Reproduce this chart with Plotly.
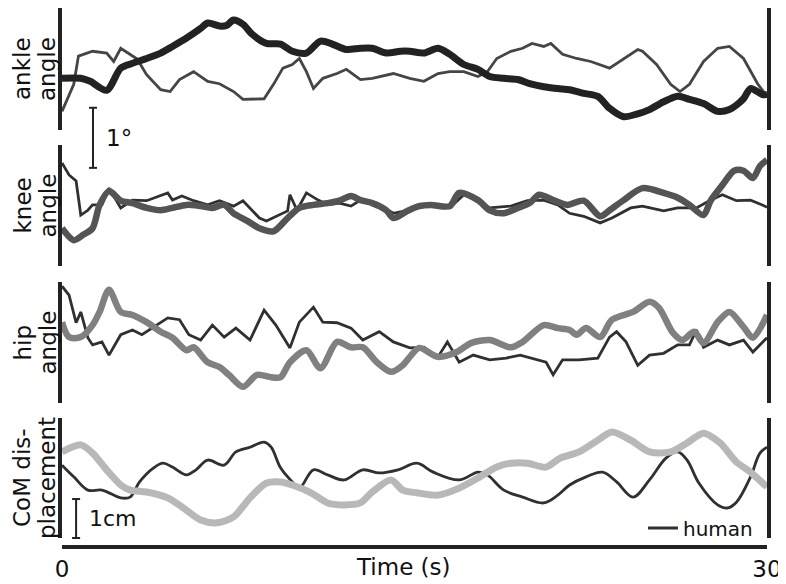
import plotly.graph_objects as go

# ---- data (time in s, angles in degrees, CoM in cm) ----
ankle_model_t = [0, 0.8, 1.2, 1.9, 2.5, 3.0, 3.6, 4.2, 4.7, 5.3, 5.9, 6.2, 6.7, 7.0, 7.3, 7.7, 8.1, 8.7, 9.3, 9.8,
                 10.4, 11.0, 11.5, 12.1, 12.7, 13.2, 13.8, 14.4, 14.8, 15.4, 16.0, 16.5, 17.1, 17.7, 18.2, 18.8,
                 19.4, 19.9, 20.5, 21.1, 21.6, 22.2, 22.8, 23.3, 23.9, 24.5, 25.0, 25.6, 26.2, 26.7, 27.3, 27.9,
                 28.4, 29.0, 29.3, 29.8, 30.0]
ankle_model = [-0.14, -0.14, -0.19, -0.34, 0.03, 0.11, 0.19, 0.28, 0.39, 0.53, 0.69, 0.78, 0.73, 0.74, 0.83, 0.76,
               0.59, 0.44, 0.43, 0.31, 0.28, 0.48, 0.43, 0.34, 0.36, 0.36, 0.28, 0.31, 0.31, 0.28, 0.36, 0.26,
               0.09, 0.01, -0.11, -0.14, -0.16, -0.23, -0.28, -0.31, -0.33, -0.39, -0.44, -0.64, -0.78, -0.73,
               -0.66, -0.53, -0.44, -0.49, -0.56, -0.69, -0.66, -0.48, -0.31, -0.41, -0.41]
ankle_human_t = [0.0, 0.5, 0.7, 1.3, 1.9, 2.2, 2.5, 2.8, 3.2, 3.6, 4.2, 4.6, 5.0, 5.6, 6.2, 6.7, 7.3, 7.7, 8.1, 8.6,
                 9.0, 9.4, 9.8, 10.1, 10.4, 10.7, 11.1, 11.7, 12.1, 12.7, 13.2, 14.1, 14.8, 15.4, 16.0, 16.5,
                 17.1, 17.7, 18.1, 18.5, 19.1, 19.6, 20.0, 20.5, 20.8, 21.3, 21.9, 22.5, 23.3, 23.9, 24.5, 24.7,
                 25.3, 25.9, 26.3, 26.7, 27.3, 27.9, 28.4, 29.0, 29.6, 30.0]
ankle_human = [-0.69, -0.24, 0.23, 0.31, 0.28, 0.14, 0.36, 0.28, 0.18, -0.08, -0.33, -0.36, -0.16, -0.03, -0.19,
               -0.23, -0.36, -0.49, -0.49, -0.48, -0.24, 0.03, 0.09, 0.19, -0.03, -0.31, -0.14, -0.06, 0.01,
               -0.16, -0.14, -0.06, -0.14, -0.19, -0.06, -0.03, -0.03, -0.11, -0.03, 0.19, 0.31, 0.36, 0.44,
               0.39, 0.44, 0.26, 0.19, 0.14, 0.03, 0.19, 0.34, 0.31, 0.09, -0.24, -0.36, -0.24, 0.14, 0.36,
               0.39, 0.19, -0.23, -0.44]

knee_model_t = [0.0, 0.5, 0.9, 1.3, 1.6, 2.0, 2.5, 3.0, 3.6, 4.2, 4.7, 5.3, 5.9, 6.4, 6.9, 7.3, 7.9, 8.4, 9.0, 9.6,
                10.1, 10.7, 11.3, 11.8, 12.3, 12.7, 13.2, 13.8, 14.1, 14.7, 15.2, 15.7, 16.5, 16.9, 17.7, 18.2,
                18.8, 19.4, 19.9, 20.3, 20.9, 21.5, 22.2, 22.9, 23.3, 23.9, 24.7, 25.6, 26.2, 26.7, 27.3, 27.6,
                28.1, 28.6, 29.0, 29.4, 29.7, 30.0]
knee_model = [-0.38, -0.58, -0.49, -0.38, 0.01, 0.24, 0.08, 0.04, -0.04, -0.08, -0.04, 0.01, -0.01, -0.04, 0.01,
              -0.13, -0.26, -0.38, -0.43, -0.21, -0.04, 0.01, 0.04, 0.08, 0.16, 0.09, 0.04, -0.08, -0.21, -0.09,
              -0.01, 0.01, -0.01, 0.21, 0.09, -0.08, -0.13, -0.04, 0.04, 0.18, 0.09, 0.01, 0.08, -0.18, -0.08,
              0.09, 0.29, 0.21, 0.13, 0.01, -0.16, 0.08, 0.34, 0.58, 0.58, 0.46, 0.66, 0.76]
knee_human_t = [0.0, 0.3, 0.6, 0.8, 1.1, 1.3, 1.7, 2.0, 2.5, 3.0, 3.6, 4.2, 4.5, 4.7, 5.1, 5.6, 6.2, 6.7, 7.3, 7.7,
                8.1, 8.4, 8.7, 9.1, 9.6, 9.7, 10.0, 10.4, 10.9, 11.3, 11.8, 12.3, 12.7, 13.5, 14.1, 14.7, 15.2,
                15.7, 16.5, 17.1, 17.7, 18.2, 19.1, 19.8, 20.5, 21.1, 21.6, 22.2, 22.9, 23.4, 24.2, 24.7, 25.6,
                26.2, 27.0, 27.6, 28.1, 28.7, 29.3, 29.8, 30.0]
knee_human = [0.71, 0.51, 0.41, -0.16, -0.08, 0.01, 0.01, 0.29, -0.04, 0.09, 0.08, 0.16, 0.21, 0.09, 0.16, 0.08,
              0.01, 0.08, -0.01, 0.08, -0.09, -0.21, -0.26, -0.18, -0.09, 0.18, -0.08, 0.21, 0.09, 0.01, 0.04,
              -0.01, 0.09, 0.01, -0.13, -0.08, -0.01, -0.01, -0.04, 0.18, 0.08, -0.04, -0.01, 0.08, 0.09, 0.01,
              -0.13, -0.18, -0.29, -0.21, -0.04, -0.01, -0.09, -0.04, -0.04, 0.09, 0.18, 0.08, 0.09, 0.01, -0.03]

hip_model_t = [0.0, 0.3, 0.8, 1.3, 1.6, 2.0, 2.5, 3.0, 3.6, 4.2, 4.7, 5.3, 5.6, 6.2, 6.7, 7.1, 7.7, 8.3, 8.9, 9.3,
               9.7, 10.4, 11.0, 11.7, 12.3, 12.8, 13.4, 14.0, 14.5, 14.8, 15.2, 16.0, 16.8, 17.4, 18.2, 19.1,
               19.6, 20.5, 21.1, 21.6, 21.9, 22.3, 22.9, 23.4, 24.3, 25.0, 25.4, 26.0, 26.4, 26.9, 27.3, 27.9,
               28.4, 29.0, 29.4, 30.0]
hip_model = [0.34, 0.09, 0.09, 0.29, 0.51, 0.88, 0.51, 0.46, 0.34, 0.18, 0.08, -0.13, -0.08, -0.33, -0.41, -0.54,
             -0.74, -0.54, -0.58, -0.58, -0.33, -0.13, -0.43, 0.01, -0.08, -0.08, -0.33, -0.49, -0.38, -0.24,
             -0.09, -0.24, -0.16, -0.01, 0.04, -0.08, 0.01, 0.29, 0.24, 0.21, 0.13, 0.24, 0.09, 0.38, 0.51, 0.68,
             0.58, 0.16, 0.04, 0.18, -0.01, 0.34, 0.51, 0.26, 0.08, 0.46]
hip_human_t = [0.0, 0.3, 0.6, 0.8, 1.1, 1.3, 1.7, 2.0, 2.5, 3.0, 3.4, 4.0, 4.5, 5.0, 5.4, 5.9, 6.4, 6.9, 7.4, 8.0,
               8.6, 9.1, 9.7, 10.1, 10.7, 11.1, 11.7, 12.3, 12.8, 13.5, 14.1, 14.8, 15.4, 16.0, 16.4, 16.9, 17.5,
               18.2, 18.9, 19.5, 20.0, 20.6, 20.9, 21.3, 22.0, 22.8, 23.3, 23.6, 24.0, 24.5, 25.0, 25.6, 26.2,
               26.7, 27.0, 27.3, 27.9, 28.4, 29.0, 29.4, 30.0]
hip_human = [0.94, 0.79, 0.33, 0.51, 0.08, -0.04, 0.01, -0.21, 0.13, 0.21, 0.13, 0.29, 0.41, 0.38, 0.13, 0.04, 0.29,
             0.09, 0.24, 0.04, 0.54, 0.29, -0.09, 0.34, 0.59, 0.34, 0.33, 0.24, 0.04, 0.18, 0.01, -0.09, -0.08,
             -0.24, 0.01, -0.33, -0.21, -0.29, -0.26, -0.21, -0.26, -0.33, -0.54, -0.29, -0.29, -0.26, 0.09,
             0.18, 0.01, -0.38, -0.21, -0.18, -0.04, -0.04, 0.21, -0.08, 0.04, -0.04, 0.04, -0.16, 0.08]

com_model_t = [0.0, 0.8, 1.3, 1.9, 2.5, 2.9, 3.6, 4.5, 5.1, 5.9, 6.6, 7.3, 8.0, 8.7, 9.3, 9.8, 10.6, 11.3, 12.0,
               12.7, 13.2, 14.0, 14.5, 15.1, 16.0, 16.9, 17.7, 18.5, 19.1, 19.8, 20.6, 21.2, 22.0, 22.8, 23.4,
               24.2, 25.0, 25.9, 26.6, 27.3, 28.0, 28.7, 29.3, 30.0]
com_model = [0.67, 0.85, 0.64, 0.21, -0.18, -0.31, -0.36, -0.51, -0.74, -1.08, -1.15, -1.00, -0.51, -0.13, -0.10,
             -0.18, -0.38, -0.64, -0.69, -0.64, -0.36, -0.05, -0.31, -0.38, -0.44, -0.26, 0.00, 0.28, 0.38, 0.38,
             0.28, 0.51, 0.67, 0.97, 1.18, 0.97, 0.67, 0.67, 0.90, 1.15, 0.90, 0.41, 0.15, -0.23]
com_human_t = [0.0, 0.5, 1.1, 1.7, 2.5, 2.9, 3.3, 3.9, 4.3, 4.7, 5.3, 5.7, 6.2, 6.9, 7.4, 8.0, 8.6, 8.9, 9.3, 9.8,
               10.1, 10.7, 11.3, 12.0, 12.8, 13.5, 14.3, 15.1, 15.8, 16.9, 17.7, 18.1, 18.8, 19.6, 20.5, 21.1,
               21.6, 22.3, 23.0, 23.6, 24.3, 25.0, 25.7, 26.2, 26.6, 27.1, 27.9, 28.3, 28.7, 29.3, 29.7, 30.0]
com_human = [0.33, 0.03, -0.31, -0.31, -0.51, -0.49, -0.10, 0.26, 0.38, 0.28, 0.08, 0.21, 0.46, 0.33, 0.67, 0.79,
             0.92, 0.79, 0.26, -0.10, -0.26, 0.21, 0.08, -0.05, 0.21, 0.13, 0.21, 0.38, 0.15, -0.05, 0.15, 0.08,
             -0.31, -0.49, -0.64, -0.44, -0.18, 0.03, 0.15, -0.10, -0.49, -0.05, 0.51, 0.67, 0.46, -0.13, -0.69,
             -0.77, -0.62, 0.03, 0.64, 0.79]

labels = [('ankle', 'angle'), ('knee', 'angle'), ('hip', 'angle'), ('CoM dis-', 'placement')]
tick_vals = [0, 30]
tick_text = ['0', '30']

# ---- layout ----
# the page puts the figure 8px in from the top-left corner, so the figure is 8px smaller
OFF = 8
W, H = 786 - OFF, 584 - OFF
FONT = 'DejaVu Sans'


def px_x(x):
    return (x - OFF) / W


def px_y(y):
    return 1 - (y - OFF) / H


X_DOM = [px_x(62), px_x(767)]
Y_DOMS = [[px_y(130), px_y(8)], [px_y(266), px_y(145)], [px_y(403), px_y(282)], [px_y(538), px_y(418)]]
Y_RNGS = [[-1.0, 1.03], [-1.01, 1.01], [-1.01, 1.01], [-1.54, 1.54]]

panels = [
    (ankle_model_t, ankle_model, '#222222', 7, ankle_human_t, ankle_human, '#454545'),
    (knee_model_t, knee_model, '#545454', 6.5, knee_human_t, knee_human, '#303030'),
    (hip_model_t, hip_model, '#808080', 6.5, hip_human_t, hip_human, '#303030'),
    (com_model_t, com_model, '#b8b8b8', 7, com_human_t, com_human, '#303030'),
]


def to_paper(v, i):
    d, r = Y_DOMS[i], Y_RNGS[i]
    return d[0] + (v - r[0]) / (r[1] - r[0]) * (d[1] - d[0])


fig = go.Figure()
for i, (mt, mv, mc, mw, ht, hv, hc) in enumerate(panels):
    n = '' if i == 0 else str(i + 1)
    human_shape = 'spline' if i == 3 else 'linear'
    fig.add_trace(go.Scatter(x=ht, y=hv, mode='lines', line=dict(color=hc, width=2.8, shape=human_shape),
                             name='human', showlegend=(i == 3), xaxis='x' + n, yaxis='y' + n))
    fig.add_trace(go.Scatter(x=mt, y=mv, mode='lines', line=dict(color=mc, width=mw, shape='spline',
                                                                 smoothing=0.8),
                             name='model', showlegend=False, xaxis='x' + n, yaxis='y' + n))
    fig.layout['xaxis' + n] = dict(domain=X_DOM, range=[0, 30], visible=False, anchor='y' + n)
    fig.layout['yaxis' + n] = dict(domain=Y_DOMS[i], range=Y_RNGS[i], showline=True, mirror=True,
                                   linecolor='#222222', linewidth=4, showgrid=False, zeroline=False,
                                   showticklabels=False, ticks='', anchor='x' + n)
    # two-line rotated y label, one annotation per line
    for line_txt, lx in zip(labels[i], (22, 47)):
        fig.add_annotation(text=line_txt, xref='paper', yref='paper', x=px_x(lx), y=sum(Y_DOMS[i]) / 2,
                           textangle=-90, showarrow=False, xanchor='center', yanchor='middle',
                           font=dict(family=FONT, size=23, color='#111111'))

# bottom time axis
fig.layout['xaxis5'] = dict(domain=X_DOM, range=[0, 30], anchor='free', position=px_y(547),
                            overlaying='x4', showline=True, linecolor='#222222', linewidth=4,
                            showgrid=False, zeroline=False, ticks='', tickvals=tick_vals, ticktext=tick_text,
                            automargin=False,
                            tickfont=dict(family=FONT, size=23, color='#111111'))
fig.add_trace(go.Scatter(x=[0, 30], y=[None, None], xaxis='x5', yaxis='y4', showlegend=False,
                         hoverinfo='skip'))
fig.add_annotation(text='Time (s)', xref='paper', yref='paper', x=px_x(403), y=px_y(567),
                   showarrow=False, xanchor='center', yanchor='middle',
                   font=dict(family=FONT, size=23, color='#111111'))

# scale bars: 1 degree (angle panels) and 1 cm (CoM panel)
bars = [(1.32, -0.63, 0, '1°', 23), (0.6, -0.54, 3, '1cm', 22)]
for bx, top, pi, txt, fs in bars:
    y0, y1 = to_paper(top - 1, pi), to_paper(top, pi)
    fig.add_shape(type='line', xref='x', yref='paper', x0=bx, x1=bx, y0=y0, y1=y1,
                  line=dict(color='#222222', width=2))
    for yy in (y0, y1):
        fig.add_shape(type='line', xref='x', yref='paper', x0=bx - 0.17, x1=bx + 0.17, y0=yy, y1=yy,
                      line=dict(color='#222222', width=2))
    fig.add_annotation(text=txt, xref='x', yref='paper', x=bx + 0.45, y=(y0 + y1) / 2, showarrow=False,
                       xanchor='left', yanchor='middle', font=dict(family=FONT, size=fs, color='#111111'))

fig.update_layout(
    width=W, height=H,
    margin=dict(l=0, r=0, t=0, b=0, pad=0, autoexpand=False),
    paper_bgcolor='white', plot_bgcolor='white',
    font=dict(family=FONT, color='#111111'),
    legend=dict(x=px_x(758), xanchor='right', y=px_y(528), yanchor='middle', itemwidth=30,
                bgcolor='rgba(0,0,0,0)', font=dict(family=FONT, size=20, color='#111111')),
)

fig.write_html("out.html")
